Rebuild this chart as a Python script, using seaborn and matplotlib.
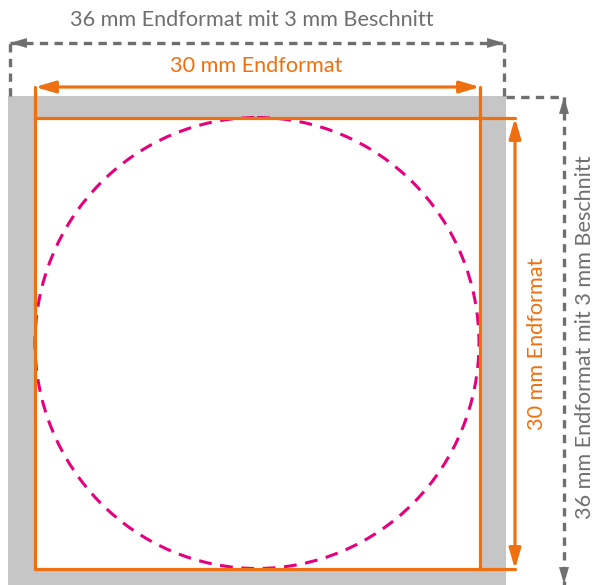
import matplotlib
matplotlib.use("Agg")
import matplotlib.pyplot as plt
from matplotlib.patches import Rectangle, Ellipse
import seaborn as sns
import pandas as pd

# --- diagram values (pixel-space of the reference drawing) ---
labels = ["36 mm Endformat mit 3 mm Beschnitt", "30 mm Endformat"]
bleed_x = [8, 506]      # gray bleed area, left/right
bleed_y = [96, 585]     # gray bleed area, top/bottom
trim_x = [35, 480]      # orange final format, left/right
trim_y = [118, 569]     # orange final format, top/bottom
circle_c = [257, 343]
circle_wh = [444, 451]
dim_outer_y = 43        # gray horizontal dimension line
dim_outer_x = 564       # gray vertical dimension line
dim_inner_y = 87        # orange horizontal dimension line
dim_inner_x = 515       # orange vertical dimension line

GRAY_FILL = "#c6c6c6"
GRAY = "#6f6f6f"
ORANGE = "#ef7010"
MAGENTA = "#e6007e"

sns.set_theme(style="white")
plt.rcParams["font.family"] = ["Lato", "DejaVu Sans"]

fig = plt.figure(figsize=(5.95, 5.85), dpi=100)
ax = fig.add_axes([0, 0, 1, 1])
ax.set_xlim(0, 595)
ax.set_ylim(585, 0)
ax.axis("off")

# gray bleed square
ax.add_patch(Rectangle((bleed_x[0], bleed_y[0]), bleed_x[1] - bleed_x[0],
                       bleed_y[1] - bleed_y[0], facecolor=GRAY_FILL,
                       edgecolor="none", zorder=1))
# white inner area
ax.add_patch(Rectangle((trim_x[0], trim_y[0]), trim_x[1] - trim_x[0],
                       trim_y[1] - trim_y[0], facecolor="white",
                       edgecolor="none", zorder=2))

# orange frame lines via seaborn
seg = pd.DataFrame({
    "x": [trim_x[0], trim_x[0], trim_x[1], trim_x[1],
          trim_x[0], dim_inner_x, trim_x[0], dim_inner_x],
    "y": [dim_inner_y, trim_y[1], dim_inner_y, trim_y[1],
          trim_y[0], trim_y[0], trim_y[1], trim_y[1]],
    "seg": [0, 0, 1, 1, 2, 2, 3, 3],
})
sns.lineplot(data=seg, x="x", y="y", units="seg", estimator=None, sort=False,
             color=ORANGE, lw=2.3, ax=ax, zorder=4, legend=False)

# magenta dashed circle
ax.add_patch(Ellipse((circle_c[0], circle_c[1]), circle_wh[0], circle_wh[1],
                     fill=False, edgecolor=MAGENTA, lw=2.2,
                     linestyle=(0, (4.2, 2.8)), zorder=3))

# orange dimension arrows
astyle = "<|-|>,head_length=0.75,head_width=0.22"
ax.annotate("", xy=(trim_x[1], dim_inner_y), xytext=(trim_x[0], dim_inner_y),
            arrowprops=dict(arrowstyle=astyle, color=ORANGE, lw=2.3,
                            mutation_scale=16, shrinkA=0, shrinkB=0), zorder=5)
ax.annotate("", xy=(dim_inner_x, trim_y[1]), xytext=(dim_inner_x, trim_y[0]),
            arrowprops=dict(arrowstyle=astyle, color=ORANGE, lw=2.3,
                            mutation_scale=16, shrinkA=0, shrinkB=0), zorder=5)

# gray dashed dimension lines
dash = (0, (2.5, 1.9))
glw = 2.4
ax.plot([bleed_x[0] + 2, bleed_x[0] + 2], [bleed_y[0], dim_outer_y],
        color=GRAY, lw=glw, linestyle=dash, zorder=5)
ax.plot([bleed_x[1] - 2, bleed_x[1] - 2], [bleed_y[0], dim_outer_y],
        color=GRAY, lw=glw, linestyle=dash, zorder=5)
ax.plot([bleed_x[0] + 2, bleed_x[1] - 2], [dim_outer_y, dim_outer_y],
        color=GRAY, lw=glw, linestyle=dash, zorder=5)
ax.plot([bleed_x[1], dim_outer_x], [bleed_y[0] + 1, bleed_y[0] + 1],
        color=GRAY, lw=glw, linestyle=dash, zorder=5)
ax.plot([dim_outer_x, dim_outer_x], [bleed_y[0] + 1, bleed_y[1]],
        color=GRAY, lw=glw, linestyle=dash, zorder=5)

hstyle = "-|>,head_length=0.75,head_width=0.22"
L = 13
for tip, base in [((bleed_x[0] + 2, dim_outer_y), (bleed_x[0] + 2 + L, dim_outer_y)),
                  ((bleed_x[1] - 2, dim_outer_y), (bleed_x[1] - 2 - L, dim_outer_y)),
                  ((dim_outer_x, bleed_y[0] + 1), (dim_outer_x, bleed_y[0] + 1 + L)),
                  ((dim_outer_x, bleed_y[1] - 1), (dim_outer_x, bleed_y[1] - 1 - L))]:
    ax.annotate("", xy=tip, xytext=base,
                arrowprops=dict(arrowstyle=hstyle, color=GRAY, lw=0.1,
                                mutation_scale=16, shrinkA=0, shrinkB=0), zorder=6)

# texts
fs = 15.6
tw = "normal"
ax.text(252, 20, labels[0], color=GRAY, fontsize=fs, ha="center", va="center",
        fontweight=tw)
ax.text(256, 66, labels[1], color=ORANGE, fontsize=fs, ha="center", va="center",
        fontweight=tw)
ax.text(537, 344, labels[1], color=ORANGE, fontsize=fs, ha="center", va="center",
        rotation=90, fontweight=tw)
ax.text(585, 337, labels[0], color=GRAY, fontsize=fs, ha="center", va="center",
        rotation=90, fontweight=tw)

fig.savefig("out.png", dpi=100)
